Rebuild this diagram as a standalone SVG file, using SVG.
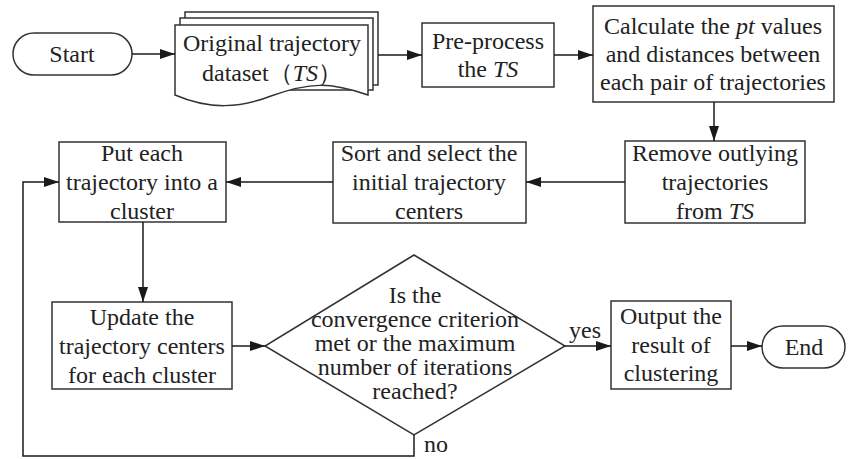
<svg xmlns="http://www.w3.org/2000/svg" width="848" height="459" viewBox="0 0 848 459" font-family="Liberation Serif, Times New Roman, Times, serif">
<defs>
<marker id="arr" markerUnits="userSpaceOnUse" markerWidth="16" markerHeight="12" refX="15" refY="6" orient="auto">
<path d="M0,1 L15,6 L0,11 Z" fill="#1a1a1a"/>
</marker>
</defs>
<style>
.s{fill:#fff;stroke:#333;stroke-width:1.5}
.t{font-size:24px;fill:#222;text-anchor:middle}
.i{font-style:italic}
.c{fill:none;stroke:#1a1a1a;stroke-width:1.5;marker-end:url(#arr)}
</style>
<rect width="848" height="459" fill="#fff"/>
<g id="start">
<rect class="s" x="13" y="33" width="119" height="42" rx="21"/>
<text class="t" x="72" y="62">Start</text>
</g>
<g id="dataset">
<path class="s" d="M185,12 L378,12 L378,85 L185,85 Z"/>
<path class="s" d="M180,18 L373,18 L373,90 L180,90 Z"/>
<path class="s" d="M175,25 L368,25 L368,95 C330,82 310,82 271,96 C240,108 210,110 175,95 Z"/>
<text class="t" x="272" y="51">Original trajectory</text>
<text class="t" x="272" y="81">dataset（<tspan class="i">TS</tspan>）</text>
</g>
<g id="preprocess">
<rect class="s" x="422" y="23" width="132" height="64"/>
<text class="t" x="488" y="49">Pre-process</text>
<text class="t" x="488" y="77">the <tspan class="i">TS</tspan></text>
</g>
<g id="calculate">
<rect class="s" x="593" y="6" width="241" height="96"/>
<text class="t" x="713" y="34">Calculate the <tspan class="i">pt</tspan> values</text>
<text class="t" x="713" y="62">and distances between</text>
<text class="t" x="713" y="90">each pair of trajectories</text>
</g>
<g id="remove">
<rect class="s" x="625" y="141" width="180" height="82"/>
<text class="t" x="715" y="161">Remove outlying</text>
<text class="t" x="715" y="190">trajectories</text>
<text class="t" x="715" y="219">from <tspan class="i">TS</tspan></text>
</g>
<g id="sort">
<rect class="s" x="333" y="142" width="193" height="81"/>
<text class="t" x="429" y="161">Sort and select the</text>
<text class="t" x="429" y="190">initial trajectory</text>
<text class="t" x="429" y="219">centers</text>
</g>
<g id="put">
<rect class="s" x="59" y="142" width="167" height="80"/>
<text class="t" x="142" y="161">Put each</text>
<text class="t" x="142" y="190">trajectory into a</text>
<text class="t" x="142" y="219">cluster</text>
</g>
<g id="update">
<rect class="s" x="52" y="302" width="180" height="87"/>
<text class="t" x="142" y="325">Update the</text>
<text class="t" x="142" y="354">trajectory centers</text>
<text class="t" x="142" y="383">for each cluster</text>
</g>
<g id="decision">
<path class="s" d="M414,255 L565,346 L414,435 L265,346 Z"/>
<text class="t" x="415" y="303">Is the</text>
<text class="t" x="415" y="327">convergence criterion</text>
<text class="t" x="415" y="351">met or the maximum</text>
<text class="t" x="415" y="375">number of iterations</text>
<text class="t" x="415" y="399">reached?</text>
</g>
<g id="output">
<rect class="s" x="611" y="301" width="120" height="88"/>
<text class="t" x="671" y="324">Output the</text>
<text class="t" x="671" y="353">result of</text>
<text class="t" x="671" y="381">clustering</text>
</g>
<g id="end">
<rect class="s" x="762" y="326" width="83" height="42" rx="21"/>
<text class="t" x="804" y="355">End</text>
</g>
<g id="connectors">
<path class="c" d="M132,54 L175,54"/>
<path class="c" d="M378,55 L422,55"/>
<path class="c" d="M554,55 L593,55"/>
<path class="c" d="M714,102 L714,141"/>
<path class="c" d="M625,182 L526,182"/>
<path class="c" d="M333,182 L226,182"/>
<path class="c" d="M143,222 L143,302"/>
<path class="c" d="M232,346 L265,346"/>
<path class="c" d="M565,346 L611,346"/>
<path class="c" d="M731,346 L762,346"/>
<path class="c" d="M414,435 L414,456 L23,456 L23,182 L59,182"/>
<text class="t" x="585" y="338">yes</text>
<text class="t" x="436" y="452">no</text>
</g>
</svg>
